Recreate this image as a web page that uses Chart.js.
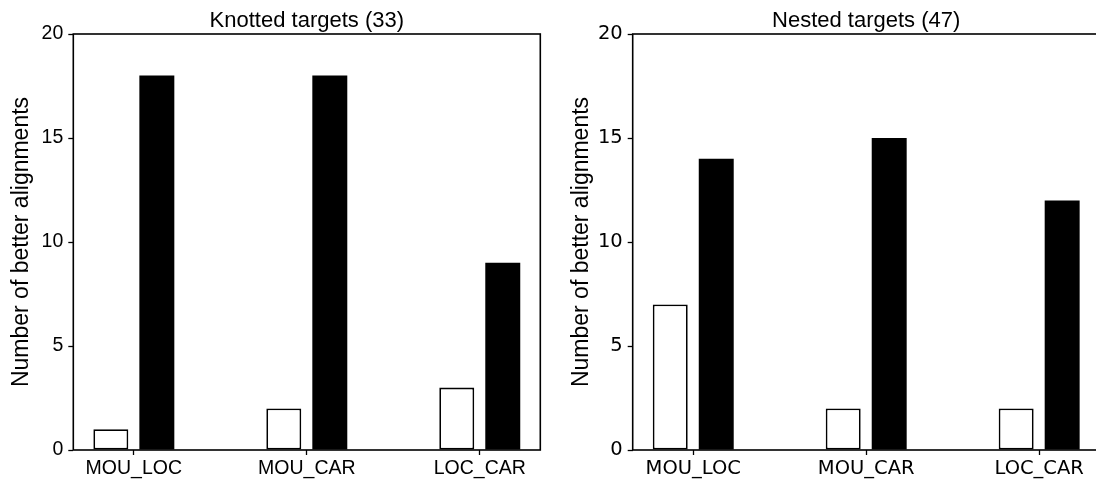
<!DOCTYPE html>
<html>
<head>
<meta charset="utf-8">
<script src="https://cdn.jsdelivr.net/npm/chart.js@4.4.1/dist/chart.umd.min.js"></script>
<style>
  html, body { margin: 0; padding: 0; background: #fff; overflow: hidden; }
  body { width: 1096px; height: 483px; position: relative; }
  canvas { position: absolute; top: 0; }
  #knotted { left: 0; }
  #nested { left: 548px; }
</style>
</head>
<body>
<canvas id="knotted" width="548" height="483"></canvas>
<canvas id="nested" width="560" height="483"></canvas>
<script>
// Data
const categories = ['MOU_LOC', 'MOU_CAR', 'LOC_CAR'];
const knottedOpen = [1, 2, 3];
const knottedFilled = [18, 18, 9];
const nestedOpen = [7, 2, 2];
const nestedFilled = [14, 15, 12];
const yTicks = [0, 5, 10, 15, 20];

const sansArial = "'Liberation Sans', Arial, sans-serif";
const sansDejaVu = "'DejaVu Sans', sans-serif";

// matplotlib-like full box around the plot area plus the panel title
const frameAndTitle = {
  id: 'frameAndTitle',
  afterDraw(chart, args, opts) {
    const { ctx, chartArea: a } = chart;
    ctx.save();
    ctx.strokeStyle = '#000';
    ctx.lineWidth = 1.6;
    ctx.strokeRect(a.left, a.top, a.right - a.left, a.bottom - a.top);
    ctx.fillStyle = '#000';
    ctx.font = '22px ' + sansArial;
    ctx.textAlign = 'center';
    ctx.textBaseline = 'alphabetic';
    ctx.fillText(opts.text, (a.left + a.right) / 2, a.top - 7);
    ctx.restore();
  }
};

function toPoints(values) {
  return values.map((v, i) => ({ x: i, y: v }));
}

function makePanel(id, title, openVals, filledVals, tickFamily, axisWidth, padRight, labelPad) {
  const ctx = document.getElementById(id);
  return new Chart(ctx, {
    type: 'bar',
    data: {
      datasets: [
        {
          data: toPoints(openVals),
          backgroundColor: '#fff',
          borderColor: '#000',
          borderWidth: 1.8,
          borderSkipped: false,
          categoryPercentage: 0.532,
          barPercentage: 0.76
        },
        {
          data: toPoints(filledVals),
          backgroundColor: '#000',
          borderWidth: 0,
          categoryPercentage: 0.532,
          barPercentage: 0.76
        }
      ]
    },
    options: {
      responsive: false,
      animation: false,
      layout: { padding: { top: 34, right: padRight, left: 0, bottom: 0 } },
      plugins: {
        legend: { display: false },
        tooltip: { enabled: false },
        frameAndTitle: { text: title }
      },
      scales: {
        x: {
          type: 'linear',
          offset: false,
          min: -0.35,
          max: 2.35,
          afterBuildTicks: scale => {
            scale.ticks = categories.map((c, i) => ({ value: i }));
          },
          afterFit: scale => { scale.height = 33; },
          border: { display: false },
          grid: {
            offset: false,
            drawOnChartArea: false,
            drawTicks: true,
            tickLength: 5,
            tickWidth: 1.3,
            tickColor: '#000'
          },
          ticks: {
            autoSkip: false,
            maxRotation: 0,
            padding: 2,
            color: '#000',
            font: { family: tickFamily, size: 19.5 },
            callback: v => categories[v]
          }
        },
        y: {
          min: 0,
          max: 20,
          afterBuildTicks: scale => {
            scale.ticks = yTicks.map(v => ({ value: v }));
          },
          afterFit: scale => { scale.width = axisWidth; },
          border: { display: false },
          grid: {
            drawOnChartArea: false,
            drawTicks: true,
            tickLength: 5,
            tickWidth: 1.3,
            tickColor: '#000'
          },
          ticks: {
            padding: 5,
            color: '#000',
            font: { family: tickFamily, size: 19.5 }
          },
          title: {
            display: true,
            text: 'Number of better alignments',
            color: '#000',
            font: { family: sansArial, size: 23 },
            padding: { top: labelPad, bottom: 0 }
          }
        }
      }
    },
    plugins: [frameAndTitle]
  });
}

makePanel('knotted', 'Knotted targets (33)', knottedOpen, knottedFilled, sansArial, 73.3, 7.7, 8);
makePanel('nested', 'Nested targets (47)', nestedOpen, nestedFilled, sansDejaVu, 84.7, 8.3, 20);
</script>
</body>
</html>
